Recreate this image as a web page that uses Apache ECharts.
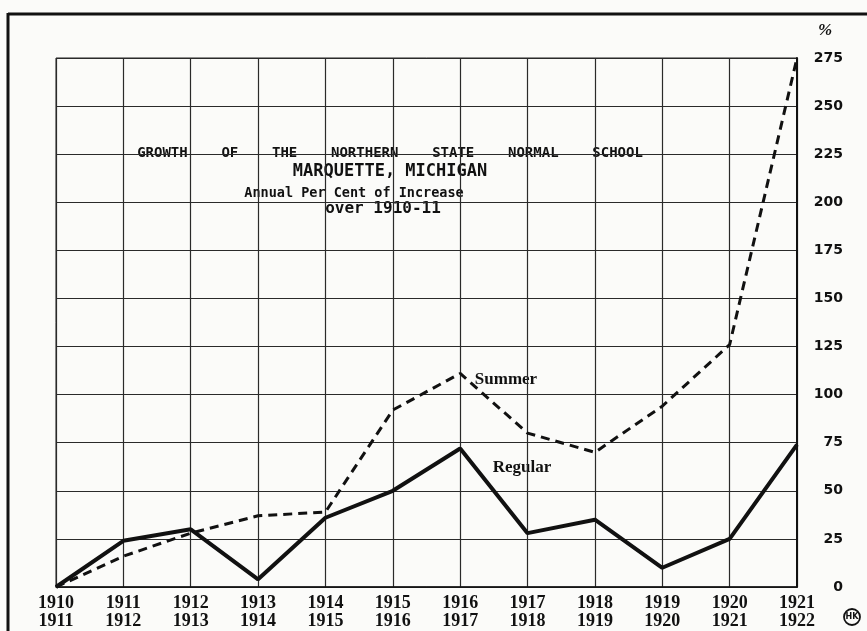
<!DOCTYPE html>
<html>
<head>
<meta charset="utf-8">
<script src="https://cdn.jsdelivr.net/npm/echarts@6/dist/echarts.min.js"></script>
<style>html,body{margin:0;padding:0;background:#fbfbf9;}#c{width:867px;height:631px;}</style>
</head>
<body>
<div id="c"></div>
<script>
var categories = ['1910\n1911','1911\n1912','1912\n1913','1913\n1914','1914\n1915','1915\n1916','1916\n1917','1917\n1918','1918\n1919','1919\n1920','1920\n1921','1921\n1922'];
var regular = [0, 24, 30, 4, 36, 50, 72, 28, 35, 10, 25, 74];
var summer  = [0, 16, 28, 37, 39, 92, 111, 80, 70, 94, 126, 275];
var yTicks = {min: 0, max: 275, interval: 25};

var chart = echarts.init(document.getElementById('c'), null, {renderer: 'canvas'});
var ink = '#111';
var mono = '"DejaVu Sans Mono", "Liberation Mono", monospace';
var serif = '"Liberation Serif", "DejaVu Serif", serif';
chart.setOption({
  backgroundColor: '#fbfbf9',
  animation: false,
  grid: {left: 56, right: 70, top: 58, bottom: 44, show: true, borderColor: '#222', borderWidth: 1},
  xAxis: {
    type: 'category', data: categories, boundaryGap: false,
    axisLine: {lineStyle: {color: ink, width: 1.5}},
    axisTick: {show: false},
    axisLabel: {interval: 0, fontFamily: serif, fontWeight: 'bold', fontSize: 18, lineHeight: 18, color: ink, margin: 7},
    splitLine: {show: true, lineStyle: {color: '#2a2a2a', width: 1.2}}
  },
  yAxis: {
    type: 'value', position: 'right', min: yTicks.min, max: yTicks.max, interval: yTicks.interval,
    axisLine: {show: true, lineStyle: {color: ink, width: 2}},
    axisTick: {show: false},
    axisLabel: {align: 'right', margin: 46, fontFamily: '"DejaVu Sans", sans-serif', fontWeight: 'bold', fontSize: 14, color: ink},
    splitLine: {show: true, lineStyle: {color: '#2a2a2a', width: 1.2}}
  },
  series: [
    {name: 'Regular', type: 'line', data: regular, symbol: 'none', lineStyle: {color: ink, width: 4}, z: 5},
    {name: 'Summer', type: 'line', data: summer, symbol: 'none', lineStyle: {color: ink, width: 3, type: [9, 6]}, z: 4}
  ],
  graphic: [
    {type: 'line', shape: {x1: 8, y1: 14, x2: 867, y2: 14}, style: {stroke: ink, lineWidth: 3}},
    {type: 'line', shape: {x1: 8, y1: 13, x2: 8, y2: 631}, style: {stroke: ink, lineWidth: 3}},
    {type: 'text', x: 390, y: 153, style: {text: 'GROWTH    OF    THE    NORTHERN    STATE    NORMAL    SCHOOL', font: 'bold 14px ' + mono, fill: ink, align: 'center', verticalAlign: 'middle'}},
    {type: 'text', x: 390, y: 172, style: {text: 'MARQUETTE, MICHIGAN', font: 'bold 17px ' + mono, fill: ink, align: 'center', verticalAlign: 'middle'}},
    {type: 'text', x: 354, y: 193, style: {text: 'Annual Per Cent of Increase', font: 'bold 13.5px ' + mono, fill: ink, align: 'center', verticalAlign: 'middle'}},
    {type: 'text', x: 383, y: 209, style: {text: 'over 1910-11', font: 'bold 16px ' + mono, fill: ink, align: 'center', verticalAlign: 'middle'}},
    {type: 'text', x: 506, y: 380, style: {text: 'Summer', font: 'bold 17px ' + serif, fill: ink, align: 'center', verticalAlign: 'middle'}},
    {type: 'text', x: 522, y: 468, style: {text: 'Regular', font: 'bold 17px ' + serif, fill: ink, align: 'center', verticalAlign: 'middle'}},
    {type: 'text', x: 825, y: 31, style: {text: '%', font: 'italic bold 17px ' + serif, fill: ink, align: 'center', verticalAlign: 'middle'}},
    {type: 'circle', shape: {cx: 852, cy: 617, r: 8}, style: {fill: 'none', stroke: ink, lineWidth: 1.8}},
    {type: 'text', x: 852, y: 617, style: {text: 'HK', font: 'bold 8px "DejaVu Sans", sans-serif', fill: ink, align: 'center', verticalAlign: 'middle'}}
  ]
});
</script>
</body>
</html>
